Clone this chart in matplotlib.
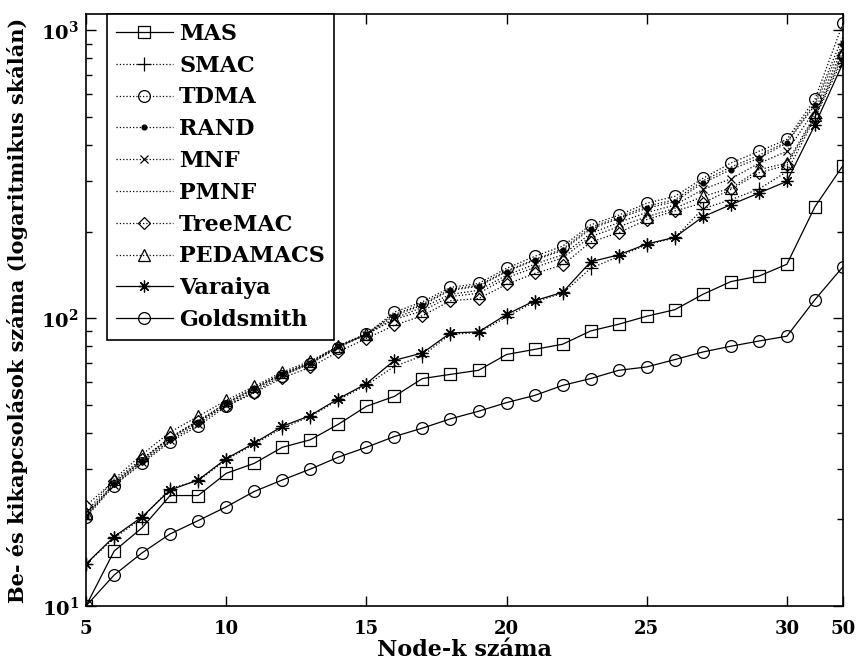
import math
import matplotlib
matplotlib.use("Agg")
import matplotlib.pyplot as plt
import matplotlib.ticker as mticker

# node counts (the last tick stands for 50 nodes, drawn right after 31)
nodes = list(range(5, 33))
tick_pos = [5, 10, 15, 20, 25, 30, 32]
tick_lab = ['5', '10', '15', '20', '25', '30', '50']

mas = [10, 15.5, 18.7, 24.2, 24.2, 28.9, 31.3, 35.6, 37.8, 42.8, 49.4, 53.5, 61.7, 63.8,
       65.9, 74.8, 77.9, 81.2, 90.3, 95.3, 101.6, 107, 121, 134, 140, 154, 244, 339]
smac = [14.0, 17.2, 20.2, 25.6, 27.2, 32.2, 36.5, 41.5, 45.5, 52, 58.5, 68, 74, 88,
        89, 101, 114, 122, 149, 164, 180, 190, 240, 258, 281, 323, 497, 800]
tdma = [20.3, 26.2, 31.3, 37.2, 42.2, 49.4, 55.5, 63, 69.5, 79, 88, 105, 114, 128,
        132, 149, 164, 178, 211, 228, 251, 265, 306, 346, 380, 418, 577, 1060]
rand_ = [20.5, 26.6, 32.0, 38.1, 43.6, 50.5, 57, 64, 70, 80, 88, 102, 111, 125,
         129, 145, 159, 172, 204, 222, 241, 254, 295, 328, 360, 406, 550, 905]
mnf = [20.6, 26.4, 31.6, 37.6, 43, 50, 56.5, 63.5, 69.5, 79.5, 87.5, 100, 109, 121,
       125, 141, 154, 166, 197, 215, 233, 247, 280, 305, 345, 380, 528, 870]
pmnf = [20.8, 26.8, 32.2, 38.5, 44, 50.8, 57.3, 64.2, 70.2, 80.2, 88.3, 103, 112, 126,
        130, 146, 160, 174, 207, 224, 245, 258, 300, 335, 368, 410, 560, 950]
treemac = [22.3, 27.2, 32.5, 38.5, 44, 49.5, 55, 62, 67.5, 76.5, 85, 94.5, 102, 115,
           117, 131, 143, 153, 184, 198, 220, 236, 251, 280, 320, 340, 500, 823]
pedamacs = [21.1, 27.6, 33.6, 40.2, 45.6, 51.8, 58, 65, 71, 80, 88, 99, 106, 119,
            122, 138, 150, 162, 192, 208, 225, 241, 265, 283, 328, 346, 508, 844]
varaiya = [14.0, 17.4, 20.4, 25.3, 27.4, 32.5, 36.8, 42.1, 45.9, 52.5, 59.2, 71.4, 75.7, 88.9,
           89.6, 103, 115, 123, 157, 166, 181, 191, 225, 248, 272, 299, 470, 771]
goldsmith = [10, 12.8, 15.3, 17.8, 19.8, 22.1, 25.0, 27.4, 29.9, 32.9, 35.6, 38.8, 41.5, 44.7,
             47.5, 50.9, 53.9, 58.4, 61.7, 65.9, 67.7, 71.8, 76.3, 79.9, 83.3, 86.6, 116, 151]

plt.rcParams['font.family'] = ['DejaVu Serif']
plt.rcParams['font.weight'] = 'bold'
plt.rcParams['mathtext.fontset'] = 'dejavuserif'

fig = plt.figure(figsize=(8.56, 6.63), dpi=100)
ax = fig.add_axes([86 / 856, 57 / 663, 757 / 856, 592 / 663])

asterisk = (8, 2, 0)
series = [
    (mas, '-', 's', 8.5, 'MAS'),
    (smac, ':', '+', 10, 'SMAC'),
    (tdma, ':', 'o', 8.5, 'TDMA'),
    (rand_, ':', '.', 7, 'RAND'),
    (mnf, ':', 'x', 6, 'MNF'),
    (pmnf, ':', None, 0, 'PMNF'),
    (treemac, ':', 'D', 6.5, 'TreeMAC'),
    (pedamacs, ':', '^', 8.5, 'PEDAMACS'),
    (varaiya, '-', asterisk, 8.5, 'Varaiya'),
    (goldsmith, '-', 'o', 8.5, 'Goldsmith'),
]
for vals, ls, mk, ms, name in series:
    ax.plot(nodes, vals, color='black', linestyle=ls, linewidth=0.9,
            marker=mk, markersize=ms,
            markerfacecolor='black' if mk == '.' else 'none',
            markeredgecolor='black', markeredgewidth=0.9, label=name)

ax.set_yscale('log')
ax.set_xlim(5, 32)
ax.set_ylim(10, 1140)
ax.set_xticks(tick_pos)
ax.set_xticklabels(tick_lab)
ax.yaxis.set_major_locator(mticker.FixedLocator([10, 100, 1000]))
ax.yaxis.set_major_formatter(mticker.FuncFormatter(
    lambda v, p: r'$\mathbf{10^{%d}}$' % round(math.log10(v))))
ax.yaxis.set_minor_locator(mticker.LogLocator(base=10, subs=range(2, 10)))
ax.yaxis.set_minor_formatter(mticker.NullFormatter())

ax.tick_params(which='both', direction='in', top=True, right=True, colors='black')
ax.tick_params(axis='x', which='major', length=7, width=1, pad=10, labelsize=13)
ax.tick_params(axis='y', which='major', length=7, width=1, pad=5, labelsize=14)
ax.tick_params(axis='y', which='minor', length=4, width=1)
for s in ax.spines.values():
    s.set_linewidth(1.2)

ax.set_xlabel('Node-k száma', fontsize=16, fontweight='bold')
ax.set_ylabel('Be- és kikapcsolások száma (logaritmikus skálán)', fontsize=15, fontweight='bold')
ax.xaxis.set_label_coords(0.5, -0.055)
ax.yaxis.set_label_coords(-0.077, 0.5)

leg = ax.legend(loc='upper left', bbox_to_anchor=(21 / 757, 1.0), borderaxespad=0,
                fancybox=False, framealpha=1, edgecolor='black', numpoints=1,
                handlelength=2.55, handletextpad=0.3, labelspacing=0.44,
                borderpad=0.4, prop={'weight': 'bold', 'size': 16})
leg.get_frame().set_linewidth(1.2)

fig.savefig('out.png', dpi=100)
